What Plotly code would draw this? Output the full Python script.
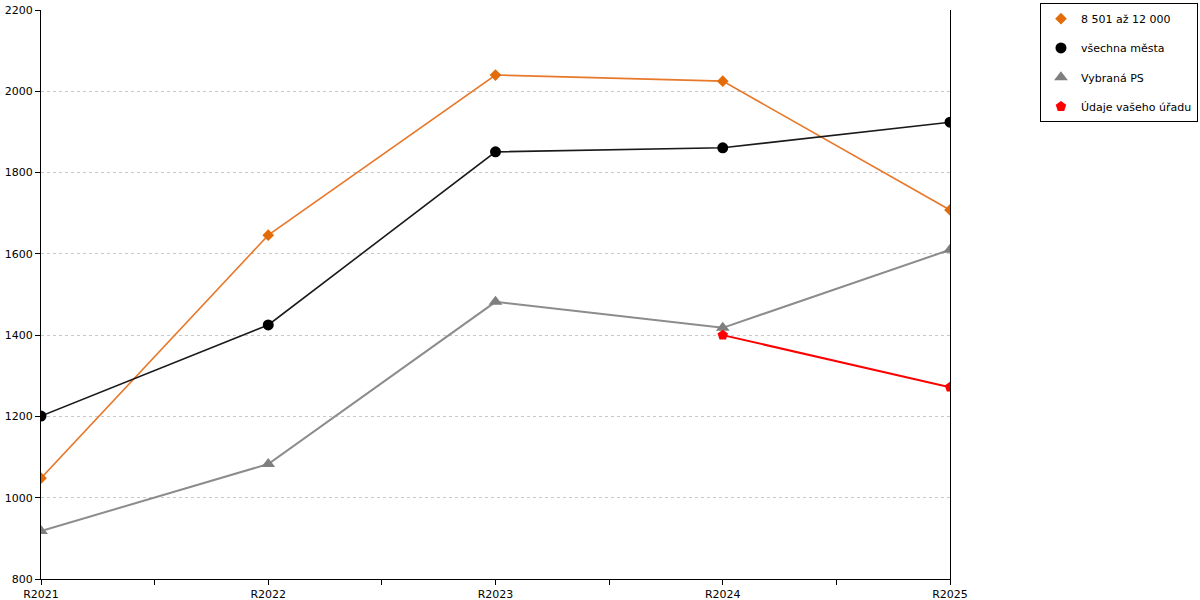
import plotly.graph_objects as go

years = ["R2021", "R2022", "R2023", "R2024", "R2025"]
skupina = [1048, 1646, 2040, 2025, 1708]
vsechna_mesta = [1201, 1425, 1851, 1861, 1924]
vybrana_ps = [918, 1083, 1482, 1418, 1610]
vas_urad = [None, None, None, 1400, 1272]

x = list(range(len(years)))

series = [
    ("8 501 až 12 000", skupina, "#e8782a", 1.6, "diamond", 9, "#e36c09"),
    ("všechna města", vsechna_mesta, "#1a1a1a", 1.6, "circle", 11, "#000000"),
    ("Vybraná PS", vybrana_ps, "#8c8c8c", 2, "triangle-up", 12, "#7f7f7f"),
    ("Údaje vašeho úřadu", vas_urad, "#ff0000", 2, "pentagon", 11, "#ff0000"),
]

fig = go.Figure()
for name, vals, lcol, lw, sym, size, mcol in series:
    # line without legend entry, markers carry the legend
    fig.add_trace(go.Scatter(x=x, y=vals, mode="lines", showlegend=False,
                             line=dict(color=lcol, width=lw), hoverinfo="skip",
                             legendgroup=name))
    fig.add_trace(go.Scatter(x=x, y=vals, name=name, mode="markers", legendgroup=name,
                             marker=dict(symbol=sym, size=size, color=mcol)))

fig.update_layout(
    width=1200, height=600,
    margin=dict(l=41, r=250, t=10, b=21, autoexpand=False),
    plot_bgcolor="white", paper_bgcolor="white",
    font=dict(family="DejaVu Sans", size=11, color="#000"),
    showlegend=True,
    legend=dict(x=1.2728, y=1.012, xanchor="right", yanchor="top",
                bordercolor="#000", borderwidth=1, bgcolor="white",
                font=dict(size=11), tracegroupgap=10.3, itemwidth=30),
    xaxis=dict(range=[0, 4], tickvals=x, ticktext=years, showgrid=False,
               zeroline=False, showline=True, linecolor="#000", linewidth=1,
               ticks="outside", ticklen=5, tickcolor="#000",
               minor=dict(dtick=0.5, tick0=0, ticks="outside", ticklen=5, tickcolor="#000")),
    yaxis=dict(range=[800, 2200], dtick=200, showgrid=True, gridcolor="#c8c8c8",
               griddash="dot", zeroline=False, showline=True, linecolor="#000",
               linewidth=1, mirror=True, ticks="outside", ticklen=5, tickcolor="#000"),
)

# drop the default 8px page margin so the figure sits at the window corner
fig.write_html("out.html", config={"displayModeBar": False},
               post_script="document.body.style.margin='0';")
